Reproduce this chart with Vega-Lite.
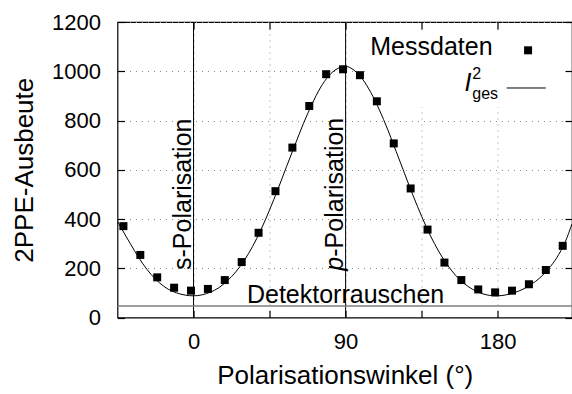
{
  "$schema": "https://vega.github.io/schema/vega-lite/v6.json",
  "width": 454.5,
  "height": 295.5,
  "autosize": {"type": "none"},
  "padding": {"left": 117.5, "top": 22, "right": 0, "bottom": 76.5},
  "background": "white",
  "config": {
    "view": {"stroke": "black", "strokeWidth": 1.2},
    "axis": {
      "labelFont": "Liberation Sans",
      "labelFontSize": 22,
      "labelColor": "black",
      "titleFont": "Liberation Sans",
      "titleFontSize": 26,
      "titleFontWeight": "normal",
      "titleColor": "black",
      "domain": false,
      "tickColor": "black",
      "tickSize": 7,
      "tickWidth": 1.2,
      "gridColor": "#8a8a8a",
      "gridDash": [1, 5],
      "gridWidth": 1,
      "gridOpacity": 1,
      "format": "d"
    },
    "text": {"font": "Liberation Sans", "fontSize": 25, "color": "black"}
  },
  "datasets": {
    "messdaten": [
      {"winkel": -41.5, "ausbeute": 371},
      {"winkel": -31.5, "ausbeute": 254},
      {"winkel": -21.5, "ausbeute": 163},
      {"winkel": -11.5, "ausbeute": 121},
      {"winkel": -1.5, "ausbeute": 109},
      {"winkel": 8.5, "ausbeute": 116},
      {"winkel": 18.5, "ausbeute": 152},
      {"winkel": 28.5, "ausbeute": 225},
      {"winkel": 38.5, "ausbeute": 344},
      {"winkel": 48.5, "ausbeute": 513},
      {"winkel": 58.5, "ausbeute": 690},
      {"winkel": 68.5, "ausbeute": 859},
      {"winkel": 78.5, "ausbeute": 988},
      {"winkel": 88.5, "ausbeute": 1008},
      {"winkel": 98.5, "ausbeute": 984},
      {"winkel": 108.5, "ausbeute": 878},
      {"winkel": 118.5, "ausbeute": 707},
      {"winkel": 128.5, "ausbeute": 524},
      {"winkel": 138.5, "ausbeute": 357},
      {"winkel": 148.5, "ausbeute": 223},
      {"winkel": 158.5, "ausbeute": 152},
      {"winkel": 168.5, "ausbeute": 114},
      {"winkel": 178.5, "ausbeute": 102},
      {"winkel": 188.5, "ausbeute": 109},
      {"winkel": 198.5, "ausbeute": 135},
      {"winkel": 208.5, "ausbeute": 193},
      {"winkel": 218.5, "ausbeute": 291}
    ],
    "fit": [
      {"winkel": -45, "ausbeute": 390},
      {"winkel": -40, "ausbeute": 330},
      {"winkel": -35, "ausbeute": 272},
      {"winkel": -30, "ausbeute": 218},
      {"winkel": -25, "ausbeute": 174},
      {"winkel": -20, "ausbeute": 140},
      {"winkel": -15, "ausbeute": 115},
      {"winkel": -10, "ausbeute": 100},
      {"winkel": -5, "ausbeute": 91},
      {"winkel": 0, "ausbeute": 88},
      {"winkel": 5, "ausbeute": 92},
      {"winkel": 10, "ausbeute": 103},
      {"winkel": 15, "ausbeute": 121},
      {"winkel": 20, "ausbeute": 149},
      {"winkel": 25, "ausbeute": 185},
      {"winkel": 30, "ausbeute": 232},
      {"winkel": 35, "ausbeute": 289},
      {"winkel": 40, "ausbeute": 358},
      {"winkel": 45, "ausbeute": 437},
      {"winkel": 50, "ausbeute": 522},
      {"winkel": 55, "ausbeute": 612},
      {"winkel": 60, "ausbeute": 700},
      {"winkel": 65, "ausbeute": 787},
      {"winkel": 70, "ausbeute": 865},
      {"winkel": 75, "ausbeute": 932},
      {"winkel": 80, "ausbeute": 981},
      {"winkel": 85, "ausbeute": 1010},
      {"winkel": 90, "ausbeute": 1020},
      {"winkel": 95, "ausbeute": 1004},
      {"winkel": 100, "ausbeute": 968},
      {"winkel": 105, "ausbeute": 913},
      {"winkel": 110, "ausbeute": 843},
      {"winkel": 115, "ausbeute": 762},
      {"winkel": 120, "ausbeute": 673},
      {"winkel": 125, "ausbeute": 583},
      {"winkel": 130, "ausbeute": 494},
      {"winkel": 135, "ausbeute": 411},
      {"winkel": 140, "ausbeute": 335},
      {"winkel": 145, "ausbeute": 270},
      {"winkel": 150, "ausbeute": 216},
      {"winkel": 155, "ausbeute": 172},
      {"winkel": 160, "ausbeute": 139},
      {"winkel": 165, "ausbeute": 115},
      {"winkel": 170, "ausbeute": 99},
      {"winkel": 175, "ausbeute": 90},
      {"winkel": 180, "ausbeute": 88},
      {"winkel": 185, "ausbeute": 92},
      {"winkel": 190, "ausbeute": 101},
      {"winkel": 195, "ausbeute": 115},
      {"winkel": 200, "ausbeute": 135},
      {"winkel": 205, "ausbeute": 161},
      {"winkel": 210, "ausbeute": 197},
      {"winkel": 215, "ausbeute": 243},
      {"winkel": 220, "ausbeute": 307},
      {"winkel": 224, "ausbeute": 380}
    ],
    "polarisation": [
      {"winkel": 0},
      {"winkel": 90}
    ],
    "eins": [{}]
  },
  "resolve": {"axis": {"x": "independent", "y": "independent"}},
  "layer": [
    {
      "data": {"name": "eins"},
      "mark": {"type": "rect", "fill": "white", "stroke": null},
      "encoding": {
        "x": {"datum": 104, "type": "quantitative", "scale": {"domain": [-45, 224], "nice": false, "zero": false},
          "axis": {"orient": "bottom", "values": [0, 45, 90, 135, 180], "labelExpr": "datum.value % 90 == 0 ? datum.label : ''", "title": "Polarisationswinkel (°)", "grid": true, "ticks": false, "labelPadding": 14, "titlePadding": 10}},
        "x2": {"datum": 219},
        "y": {"datum": 855, "type": "quantitative", "scale": {"domain": [0, 1200], "nice": false, "zero": false},
          "axis": {"orient": "left", "values": [0, 200, 400, 600, 800, 1000, 1200], "title": "2PPE-Ausbeute", "grid": true, "ticks": false, "labelPadding": 17, "titlePadding": 14}},
        "y2": {"datum": 1160}
      }
    },
    {
      "data": {"name": "polarisation"},
      "mark": {"type": "rule", "color": "black", "strokeWidth": 1},
      "encoding": {
        "x": {"field": "winkel", "type": "quantitative", "axis": {"orient": "top", "values": [0, 45, 90, 135, 180], "labels": false, "grid": false, "title": null, "offset": -7}}
      }
    },
    {
      "data": {"name": "eins"},
      "mark": {"type": "rule", "color": "#7f7f7f", "strokeWidth": 1.5},
      "encoding": {
        "y": {"datum": 47, "type": "quantitative", "axis": {"orient": "right", "values": [0, 200, 400, 600, 800, 1000, 1200], "labels": false, "grid": false, "title": null, "offset": -7}}
      }
    },
    {
      "data": {"name": "fit"},
      "mark": {"type": "line", "color": "black", "strokeWidth": 1, "interpolate": "monotone", "clip": true},
      "encoding": {
        "x": {"field": "winkel", "type": "quantitative", "axis": {"orient": "bottom", "values": [0, 45, 90, 135, 180], "labels": false, "grid": false, "title": null, "offset": -7}},
        "y": {"field": "ausbeute", "type": "quantitative", "axis": {"orient": "left", "values": [0, 200, 400, 600, 800, 1000, 1200], "labels": false, "grid": false, "title": null, "offset": -7}}
      }
    },
    {
      "data": {"name": "messdaten"},
      "mark": {"type": "point", "shape": "square", "filled": true, "color": "black", "size": 64, "opacity": 1},
      "encoding": {
        "x": {"field": "winkel", "type": "quantitative", "axis": null},
        "y": {"field": "ausbeute", "type": "quantitative", "axis": null}
      }
    },
    {
      "data": {"name": "eins"},
      "mark": {"type": "text", "text": "Detektorrauschen", "align": "center", "baseline": "alphabetic", "dy": -3},
      "encoding": {
        "x": {"datum": 90, "type": "quantitative", "axis": null},
        "y": {"datum": 47, "type": "quantitative", "axis": null}
      }
    },
    {
      "data": {"name": "eins"},
      "mark": {"type": "text", "text": "s-Polarisation", "angle": 270, "align": "left", "baseline": "alphabetic", "dy": -3},
      "encoding": {
        "x": {"datum": 0, "type": "quantitative", "axis": null},
        "y": {"datum": 193, "type": "quantitative", "axis": null}
      }
    },
    {
      "data": {"name": "eins"},
      "mark": {"type": "text", "text": "p", "fontStyle": "italic", "angle": 270, "align": "left", "baseline": "alphabetic", "dy": -3},
      "encoding": {
        "x": {"datum": 90, "type": "quantitative", "axis": null},
        "y": {"datum": 190, "type": "quantitative", "axis": null}
      }
    },
    {
      "data": {"name": "eins"},
      "mark": {"type": "text", "text": "-Polarisation", "angle": 270, "align": "left", "baseline": "alphabetic", "dy": -3, "dx": 14},
      "encoding": {
        "x": {"datum": 90, "type": "quantitative", "axis": null},
        "y": {"datum": 190, "type": "quantitative", "axis": null}
      }
    },
    {
      "data": {"name": "eins"},
      "mark": {"type": "text", "text": "Messdaten", "align": "right", "baseline": "alphabetic"},
      "encoding": {
        "x": {"datum": 177, "type": "quantitative", "axis": null},
        "y": {"datum": 1065, "type": "quantitative", "axis": null}
      }
    },
    {
      "data": {"name": "eins"},
      "mark": {"type": "point", "shape": "square", "filled": true, "color": "black", "size": 64, "opacity": 1},
      "encoding": {
        "x": {"datum": 198, "type": "quantitative", "axis": null},
        "y": {"datum": 1085, "type": "quantitative", "axis": null}
      }
    },
    {
      "data": {"name": "eins"},
      "mark": {"type": "text", "text": "I", "fontStyle": "italic", "align": "right", "baseline": "alphabetic"},
      "encoding": {
        "x": {"datum": 164.5, "type": "quantitative", "axis": null},
        "y": {"datum": 920, "type": "quantitative", "axis": null}
      }
    },
    {
      "data": {"name": "eins"},
      "mark": {"type": "text", "text": "2", "fontSize": 16, "align": "left", "baseline": "alphabetic"},
      "encoding": {
        "x": {"datum": 165, "type": "quantitative", "axis": null},
        "y": {"datum": 967, "type": "quantitative", "axis": null}
      }
    },
    {
      "data": {"name": "eins"},
      "mark": {"type": "text", "text": "ges", "fontSize": 16, "align": "left", "baseline": "alphabetic"},
      "encoding": {
        "x": {"datum": 165, "type": "quantitative", "axis": null},
        "y": {"datum": 887, "type": "quantitative", "axis": null}
      }
    },
    {
      "data": {"name": "eins"},
      "mark": {"type": "rule", "color": "black", "strokeWidth": 1},
      "encoding": {
        "x": {"datum": 185.3, "type": "quantitative", "axis": null},
        "x2": {"datum": 208.5},
        "y": {"datum": 932, "type": "quantitative", "axis": null}
      }
    }
  ]
}
